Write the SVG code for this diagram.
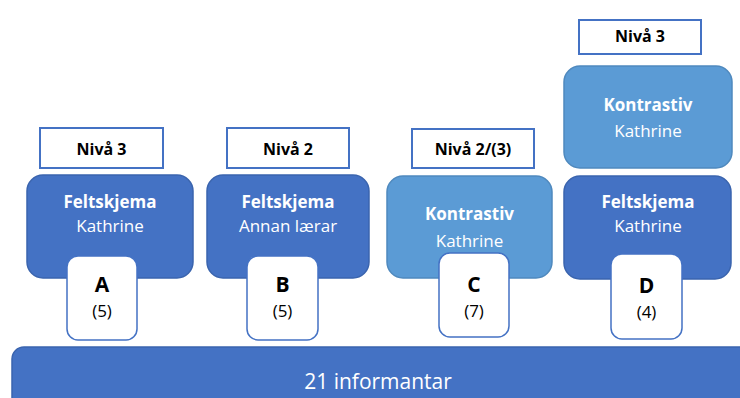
<svg xmlns="http://www.w3.org/2000/svg" width="740" height="398" viewBox="0 0 740 398">
<style>
.lvl{fill:#fff;stroke:#4472C4;stroke-width:2}
.dark{fill:#4472C4;stroke:#3A64AE;stroke-width:1.5}
.light{fill:#5B9BD5;stroke:#4F89BE;stroke-width:1.5}
.tag{fill:#fff;stroke:#4472C4;stroke-width:1.5}
text{font-family:"Open Sans","Liberation Sans",sans-serif;text-anchor:middle}
.lt{font-size:16px;font-weight:bold;fill:#000}
.hb{font-size:17px;font-weight:bold;fill:#fff}
.hr{font-size:17px;fill:#fff}
.let{font-size:21px;font-weight:bold;fill:#000}
.num{font-size:17px;fill:#000}
.base{font-size:21px;fill:#fff}
</style>
<g id="base">
<rect x="12" y="347" width="745" height="70" rx="12" class="dark"/>
<text x="378" y="389" class="base">21 informantar</text>
</g>
<g id="groupA">
<rect x="40" y="128" width="123" height="40" class="lvl"/>
<text x="101.5" y="155" class="lt">Nivå 3</text>
<rect x="27" y="175" width="166" height="103" rx="16" class="dark"/>
<text x="110" y="208" class="hb">Feltskjema</text>
<text x="110" y="232" class="hr">Kathrine</text>
<rect x="67" y="256" width="70" height="84" rx="11" class="tag"/>
<text x="102" y="292" class="let">A</text>
<text x="102" y="317" class="num">(5)</text>
</g>
<g id="groupB">
<rect x="227" y="128" width="122" height="40" class="lvl"/>
<text x="288" y="155" class="lt">Nivå 2</text>
<rect x="207" y="175" width="162" height="103" rx="16" class="dark"/>
<text x="288" y="208" class="hb">Feltskjema</text>
<text x="288" y="232" class="hr">Annan lærar</text>
<rect x="247" y="256" width="71" height="84" rx="11" class="tag"/>
<text x="282.5" y="292" class="let">B</text>
<text x="282.5" y="317" class="num">(5)</text>
</g>
<g id="groupC">
<rect x="412" y="129" width="122" height="39" class="lvl"/>
<text x="473" y="155" class="lt">Nivå 2/(3)</text>
<rect x="387" y="176" width="165" height="102" rx="16" class="light"/>
<text x="469.5" y="220" class="hb">Kontrastiv</text>
<text x="469.5" y="247" class="hr">Kathrine</text>
<rect x="439" y="253" width="70" height="84" rx="11" class="tag"/>
<text x="474" y="292" class="let">C</text>
<text x="474" y="317" class="num">(7)</text>
</g>
<g id="groupD">
<rect x="579" y="20" width="122" height="34" class="lvl"/>
<text x="640" y="42" class="lt">Nivå 3</text>
<rect x="564" y="66" width="168" height="102" rx="16" class="light"/>
<text x="648" y="111" class="hb">Kontrastiv</text>
<text x="648" y="137" class="hr">Kathrine</text>
<rect x="564" y="176" width="167" height="103" rx="16" class="dark"/>
<text x="648" y="208" class="hb">Feltskjema</text>
<text x="648" y="232" class="hr">Kathrine</text>
<rect x="611" y="254" width="71" height="85" rx="11" class="tag"/>
<text x="646.5" y="293" class="let">D</text>
<text x="646.5" y="318" class="num">(4)</text>
</g>
</svg>
